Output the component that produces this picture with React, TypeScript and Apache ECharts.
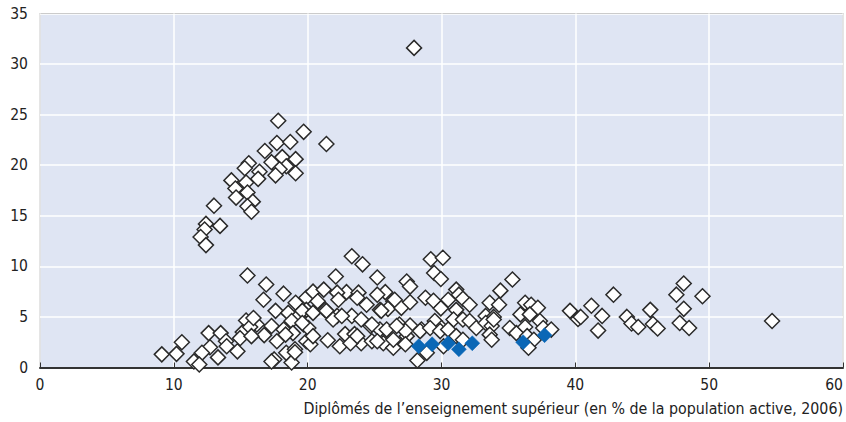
import React, { useEffect, useRef } from "react";
import * as echarts from "echarts";

const xTicks = [0, 10, 20, 30, 40, 50, 60];
const yTicks = [0, 5, 10, 15, 20, 25, 30, 35];
const xAxisTitle = "Diplômés de l’enseignement supérieur (en % de la population active, 2006)";

// Regions (white diamonds): [tertiary graduates %, y value]
const upperCluster: number[][] = [
  [17.8, 24.4], [19.7, 23.3], [21.4, 22.1], [17.7, 22.2], [18.7, 22.3], [16.8, 21.4],
  [18.1, 20.8], [19.1, 20.6], [17.3, 20.3], [18.4, 19.9], [17.9, 19.6], [15.6, 20.2],
  [15.3, 19.7], [16.4, 19.35], [17.6, 19.0], [19.1, 19.2], [16.3, 18.65], [14.3, 18.5],
  [15.4, 18.3], [14.6, 17.7], [15.5, 17.3], [14.65, 16.8], [15.9, 16.4], [15.5, 15.95],
  [15.8, 15.4], [13.0, 16.0], [13.45, 14.0], [12.4, 14.2], [12.3, 13.65], [12.0, 12.9],
  [12.4, 12.1], [27.95, 31.6],
];

const lowerLeft: number[][] = [
  [15.5, 9.1], [16.9, 8.2], [16.7, 6.7], [18.2, 7.3], [19.1, 6.4], [19.9, 6.9], [17.6, 5.6],
  [18.55, 5.4], [19.4, 5.2], [15.4, 4.65], [16.2, 4.25], [17.3, 4.1], [18.8, 4.6], [19.7, 4.25],
  [15.15, 3.5], [16.75, 3.2], [17.7, 2.6], [18.2, 3.75], [18.9, 3.4], [19.9, 2.6], [12.6, 3.4],
  [13.5, 3.4], [13.9, 2.6], [14.95, 2.9], [12.7, 2.0], [12.1, 1.45], [13.3, 1.0], [14.75, 1.6],
  [11.5, 0.6], [11.9, 0.3], [10.6, 2.5], [10.2, 1.35], [9.1, 1.3], [15.7, 4.0], [13.95, 2.1],
  [17.5, 0.8], [17.3, 0.6], [18.8, 0.5], [18.4, 1.45], [19.05, 1.8], [15.95, 4.9], [15.8, 3.1],
  [18.35, 3.25], [19.05, 1.5], [19.9, 5.7], [20.2, 2.3], [20.05, 3.9], [19.6, 5.6], [19.6, 4.4],
];

const middle: number[][] = [
  [20.4, 7.5], [21.2, 7.7], [22.1, 9.0], [23.3, 11.0], [24.1, 10.2], [25.2, 8.9], [22.9, 7.45],
  [23.8, 7.4], [25.8, 7.45], [26.4, 6.55], [22.2, 7.4], [22.3, 6.7], [23.7, 6.9], [24.4, 6.2],
  [25.4, 5.7], [20.75, 6.55], [21.3, 5.7], [22.2, 5.1], [23.3, 5.1], [20.4, 5.4], [26.0, 5.8],
  [21.5, 2.7], [22.4, 2.1], [22.8, 3.3], [23.5, 3.3], [24.0, 2.4], [24.7, 4.1], [25.4, 3.75],
  [25.9, 3.75], [25.65, 2.4], [26.4, 1.95], [23.2, 2.4], [24.8, 2.6], [29.2, 10.7], [30.1, 10.85],
  [29.45, 9.35], [29.95, 8.75], [27.4, 8.5], [27.65, 8.0], [25.2, 7.2], [21.4, 5.6], [21.9, 4.75],
  [22.55, 5.1], [24.0, 4.75], [25.5, 5.6], [27.0, 5.9], [27.65, 6.45], [28.8, 6.9], [29.4, 6.6],
  [29.95, 5.85], [20.4, 3.1], [24.8, 4.25], [25.2, 2.6], [26.85, 4.25], [27.65, 4.15], [27.4, 3.1],
  [28.5, 3.75], [29.5, 4.6], [30.0, 3.9], [28.9, 1.45], [28.2, 0.7], [23.7, 3.1], [26.5, 6.7],
  [27.3, 3.6], [26.65, 4.1], [26.4, 2.75], [27.3, 2.3], [28.4, 3.6], [29.15, 3.9], [29.9, 3.6],
];

const right: number[][] = [
  [31.1, 7.7], [31.3, 7.2], [30.5, 6.7], [31.6, 6.8], [32.1, 6.2], [31.1, 5.7], [33.6, 6.4],
  [34.3, 6.2], [34.4, 7.6], [35.3, 8.7], [33.3, 5.1], [33.9, 5.0], [36.25, 6.4], [36.7, 6.2],
  [37.2, 5.9], [35.9, 5.25], [36.6, 5.25], [30.9, 4.75], [31.6, 4.75], [32.1, 4.6], [32.6, 3.9],
  [33.3, 4.4], [33.75, 4.1], [33.9, 4.75], [30.5, 3.75], [31.1, 3.1], [31.6, 2.75], [33.6, 3.25],
  [33.75, 2.75], [35.1, 3.9], [35.6, 3.4], [36.25, 4.0], [37.35, 4.6], [37.6, 3.9], [38.2, 3.75],
  [36.4, 3.1], [36.9, 2.75], [36.5, 1.95], [30.15, 2.1],
  [39.6, 5.6], [40.2, 4.8], [40.4, 5.0], [41.2, 6.1], [42.0, 5.1], [41.7, 3.65], [42.85, 7.2],
  [43.85, 5.0], [44.2, 4.35], [44.7, 4.0], [45.6, 5.7], [45.8, 4.3], [46.15, 3.85], [48.1, 8.3],
  [47.55, 7.2], [49.5, 7.05], [48.1, 5.8], [47.8, 4.4], [48.5, 3.9], [54.7, 4.6],
];

// Highlighted (blue) regions
const highlighted: number[][] = [
  [28.3, 2.1], [29.3, 2.3], [30.5, 2.4], [31.3, 1.8], [32.3, 2.4], [36.1, 2.5], [37.7, 3.2],
];

const FONT = "'DejaVu Sans Condensed', 'Liberation Sans Narrow', sans-serif";

export default function App() {
  const ref = useRef<HTMLDivElement>(null);
  useEffect(() => {
    if (!ref.current) return;
    const chart = echarts.init(ref.current, null, { renderer: "svg" });
    const white = [...upperCluster, ...lowerLeft, ...middle, ...right];
    chart.setOption({
      animation: false,
      backgroundColor: "#ffffff",
      grid: {
        left: 40,
        right: 3,
        top: 13.5,
        bottom: 54.5,
        show: true,
        backgroundColor: "#dfe5f3",
        borderColor: "#333333",
        borderWidth: 1,
      },
      xAxis: {
        type: "value",
        min: xTicks[0],
        max: xTicks[xTicks.length - 1],
        interval: 10,
        axisLine: { show: true, onZero: false, lineStyle: { color: "#333333", width: 2 } },
        axisTick: { show: true, inside: true, length: 5, lineStyle: { color: "#333333" } },
        splitLine: { show: true, lineStyle: { color: "#ffffff", width: 1.5 } },
        axisLabel: {
          color: "#222222",
          fontFamily: FONT,
          fontSize: 15.5,
          margin: 9,
          alignMaxLabel: "right",
        },
      },
      yAxis: {
        type: "value",
        min: yTicks[0],
        max: yTicks[yTicks.length - 1],
        interval: 5,
        axisLine: { show: false },
        axisTick: { show: false },
        splitLine: { show: true, lineStyle: { color: "#ffffff", width: 1.5 } },
        axisLabel: { color: "#222222", fontFamily: FONT, fontSize: 15.5, margin: 12 },
      },
      graphic: [
        {
          type: "text",
          right: 3,
          top: 400,
          style: {
            text: xAxisTitle,
            fill: "#222222",
            font: `15.8px ${FONT}`,
          },
        },
      ],
      series: [
        {
          type: "scatter",
          data: white,
          symbol: "diamond",
          symbolSize: 15,
          itemStyle: { color: "#ffffff", borderColor: "#2a2a2a", borderWidth: 1.5, opacity: 1 },
          z: 2,
        },
        {
          type: "scatter",
          data: highlighted,
          symbol: "diamond",
          symbolSize: 15,
          itemStyle: { color: "#0a67b6", borderColor: "#0a67b6", borderWidth: 0.5, opacity: 1 },
          z: 3,
        },
      ],
    });
    return () => chart.dispose();
  }, []);
  return (
    <div
      ref={ref}
      style={{ position: "fixed", left: 0, top: 0, width: 846, height: 422 }}
    />
  );
}
